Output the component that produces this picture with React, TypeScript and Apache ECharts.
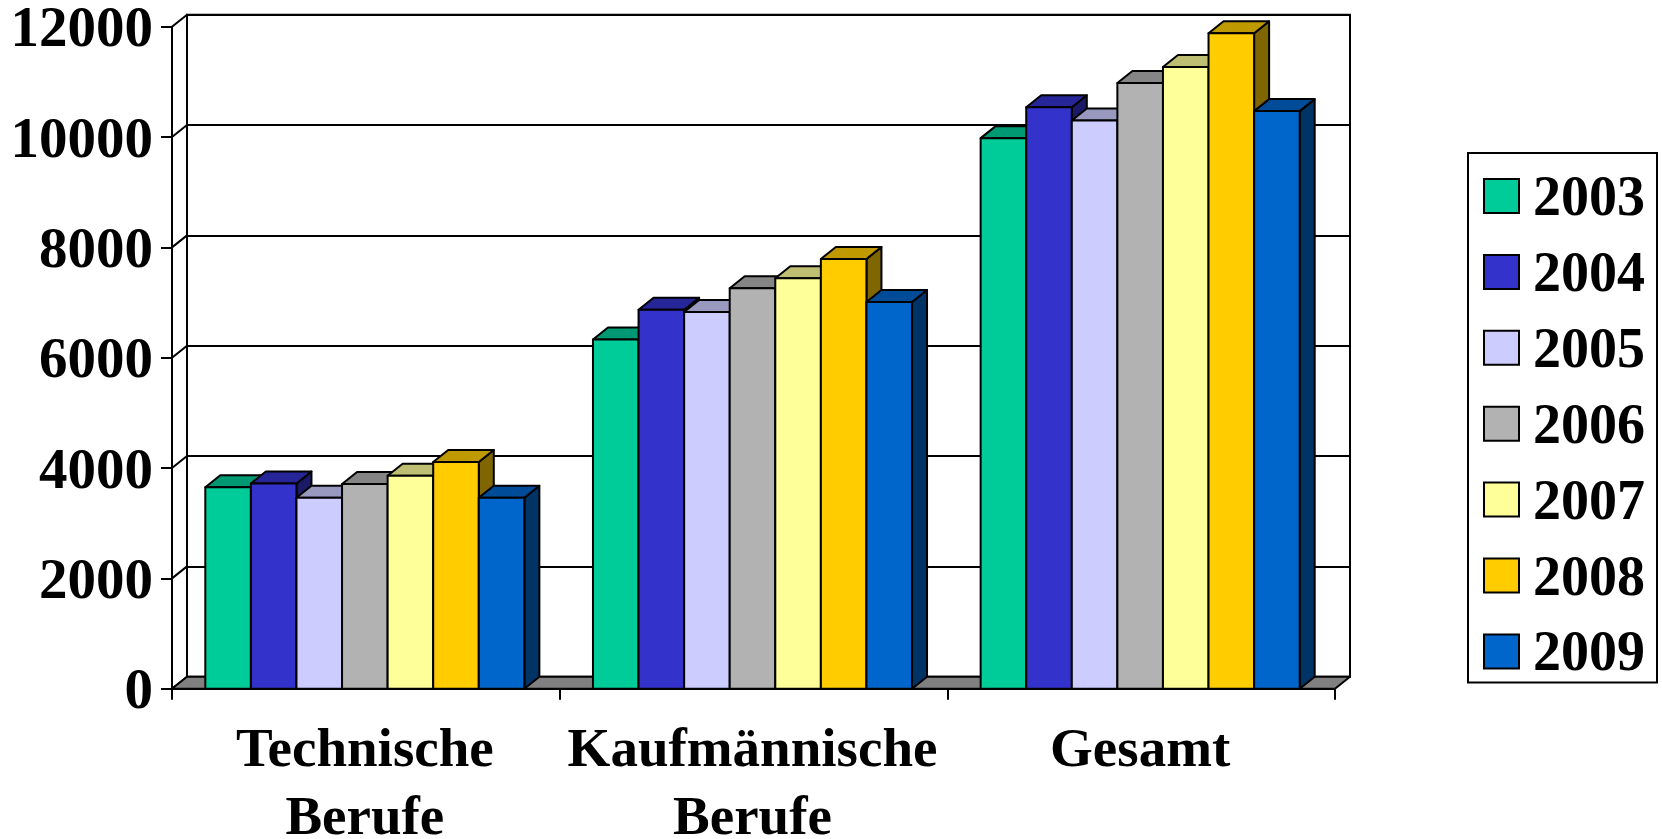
import React, { useEffect, useRef } from "react";
import * as echarts from "echarts";

const categories = ["Technische\nBerufe", "Kaufmännische\nBerufe", "Gesamt"];
const years = ["2003", "2004", "2005", "2006", "2007", "2008", "2009"];
const v2003 = [3650, 6330, 9980];
const v2004 = [3720, 6870, 10540];
const v2005 = [3460, 6830, 10300];
const v2006 = [3710, 7260, 10980];
const v2007 = [3860, 7440, 11270];
const v2008 = [4110, 7790, 11880];
const v2009 = [3460, 7010, 10470];
const seriesValues = [v2003, v2004, v2005, v2006, v2007, v2008, v2009];
const frontColors = ["#00CC99", "#3333CC", "#CCCCFF", "#B2B2B2", "#FFFF99", "#FFCC00", "#0066CC"];
const topColors = ["#009973", "#262699", "#9999BF", "#858585", "#BFBF73", "#BF9900", "#004C99"];
const sideColors = ["#00664D", "#1A1A66", "#666680", "#595959", "#80804D", "#806600", "#003366"];
const yTicks = [0, 2000, 4000, 6000, 8000, 10000, 12000];

const FONT = "'Liberation Serif', 'Times New Roman', serif";
const DX = 15;
const DY = 12;
const LEFT = 172;
const TOP = 26.7;
const W = 1163;
const H = 662;
const GROUP_RATIO = 0.823;
const BAR_SHIFT = -1;
const LINE = { stroke: "#000", lineWidth: 2, lineJoin: "round" as const };
const CAT_TEXT = { color: "#000", fontFamily: FONT, fontWeight: "bold", fontSize: 55 };

function App() {
  const ref = useRef<HTMLDivElement>(null);
  useEffect(() => {
    const chart = echarts.init(ref.current!, undefined, { renderer: "svg" });
    const bars = years.map((y, s) => ({
      type: "custom",
      name: y,
      z: 5 + s,
      itemStyle: { color: frontColors[s] },
      encode: { x: 0, y: 1 },
      data: seriesValues[s].map((v, i) => [i, v]),
      renderItem: (_p: any, api: any) => {
        const [cx, yTop] = api.coord([api.value(0), api.value(1)]);
        const [, yBase] = api.coord([api.value(0), 0]);
        const band = api.size([1, 0])[0];
        const bw = (band * GROUP_RATIO) / years.length;
        const x0 = cx + BAR_SHIFT - (band * GROUP_RATIO) / 2 + s * bw;
        const x1 = x0 + bw;
        return {
          type: "group",
          children: [
            { type: "polygon", shape: { points: [[x1, yTop], [x1 + DX, yTop - DY], [x1 + DX, yBase - DY], [x1, yBase]] }, style: { fill: sideColors[s], ...LINE } },
            { type: "polygon", shape: { points: [[x0, yTop], [x0 + DX, yTop - DY], [x1 + DX, yTop - DY], [x1, yTop]] }, style: { fill: topColors[s], ...LINE } },
            { type: "polygon", shape: { points: [[x0, yTop], [x1, yTop], [x1, yBase], [x0, yBase]] }, style: { fill: frontColors[s], ...LINE } },
          ],
        };
      },
    }));
    chart.setOption({
      animation: false,
      backgroundColor: "#fff",
      textStyle: { fontFamily: FONT },
      grid: [
        { left: LEFT, top: TOP, width: W, height: H, outerBoundsMode: "none" },
        { left: LEFT + DX, top: TOP - DY, width: W, height: H, outerBoundsMode: "none", show: true, borderColor: "#000", borderWidth: 2, backgroundColor: "#fff" },
      ],
      xAxis: [
        {
          type: "category", gridIndex: 0, data: categories,
          axisLine: { show: true, lineStyle: { color: "#000", width: 2 } },
          axisTick: { show: true, length: 11, lineStyle: { color: "#000", width: 2 } },
          axisLabel: {
            ...CAT_TEXT,
            margin: 13,
            interval: 0,
            padding: [0, 2, 0, 0],
            formatter: (v: string) => v.split("\n").map((l, i) => `{${i ? "b" : "a"}|${l}}`).join("\n"),
            rich: {
              a: { ...CAT_TEXT, lineHeight: 92 },
              b: { ...CAT_TEXT, lineHeight: 44 },
            },
          },
          splitLine: { show: false },
        },
        { type: "category", gridIndex: 1, data: categories, show: false },
      ],
      yAxis: [
        {
          type: "value", gridIndex: 0, min: 0, max: 12000, interval: 2000,
          axisLine: { show: true, lineStyle: { color: "#000", width: 2 } },
          axisTick: { show: true, length: 11, lineStyle: { color: "#000", width: 2 } },
          axisLabel: { color: "#000", fontFamily: FONT, fontWeight: "bold", fontSize: 57, lineHeight: 48, margin: 19, formatter: (v: number) => String(v) },
          splitLine: { show: false },
        },
        {
          type: "value", gridIndex: 1, min: 0, max: 12000, interval: 2000,
          axisLine: { show: true, lineStyle: { color: "#000", width: 2 } },
          axisTick: { show: false },
          axisLabel: { show: false },
          splitLine: { show: true, lineStyle: { color: "#000", width: 2 } },
        },
      ],
      legend: {
        show: true,
        orient: "vertical",
        left: 1468,
        top: 153,
        data: years,
        selectedMode: false,
        icon: "rect",
        itemWidth: 35,
        itemHeight: 34,
        itemGap: 19.9,
        padding: [15, 12, 3, 15],
        borderColor: "#000",
        borderWidth: 2,
        backgroundColor: "#fff",
        itemStyle: { borderColor: "#000", borderWidth: 2 },
        textStyle: { color: "#000", fontFamily: FONT, fontWeight: "bold", fontSize: 56, lineHeight: 54, padding: [0, 0, 0, 9] },
      },
      series: [
        {
          type: "custom",
          name: "Wand",
          z: 3,
          encode: { x: 0, y: 1 },
          data: yTicks.map((t) => [0, t]),
          renderItem: (p: any, api: any) => {
            const x = p.coordSys.x;
            const y = api.coord([0, api.value(1)])[1];
            return { type: "line", shape: { x1: x, y1: y, x2: x + DX, y2: y - DY }, style: { ...LINE } };
          },
        },
        {
          type: "custom",
          name: "Boden",
          z: 4,
          encode: { x: 0, y: 1 },
          data: [[0, 0]],
          renderItem: (p: any, api: any) => {
            const { x, width } = p.coordSys;
            const y = api.coord([0, 0])[1];
            return {
              type: "polygon",
              shape: { points: [[x, y], [x + width, y], [x + width + DX, y - DY], [x + DX, y - DY]] },
              style: { fill: "#808080", ...LINE },
            };
          },
        },
        ...bars,
      ],
    });
    return () => chart.dispose();
  }, []);
  return <div ref={ref} style={{ position: "fixed", left: 0, top: 0, width: 1662, height: 839 }} />;
}

export default App;
